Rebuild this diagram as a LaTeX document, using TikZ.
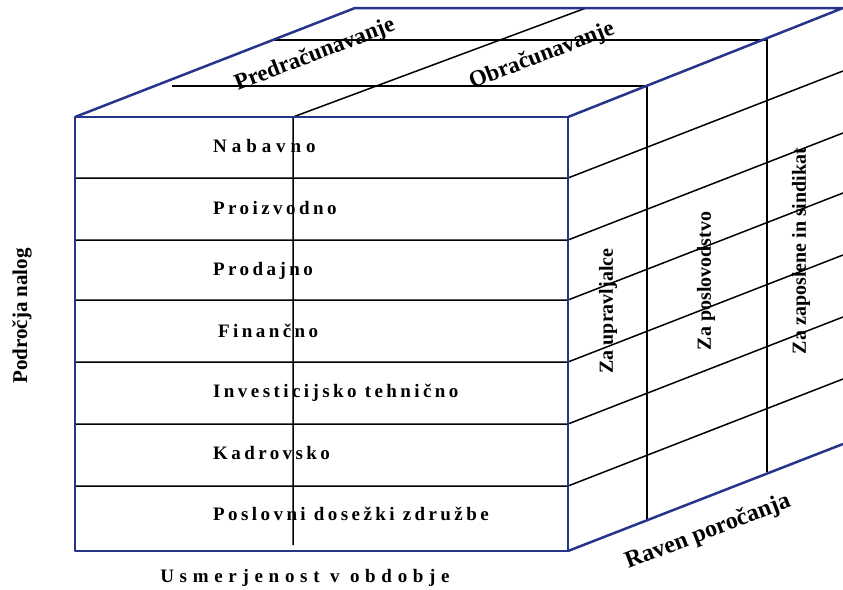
\documentclass[tikz,border=0pt]{standalone}
\usepackage{fontspec}
\setmainfont{Liberation Serif}

\definecolor{rimblue}{RGB}{38,52,138}
\newcommand{\rowfont}{\fontsize{19}{22}\selectfont\bfseries\addfontfeature{LetterSpace=18}}
\newcommand{\sidefont}{\fontsize{20}{24}\selectfont\bfseries}
\newcommand{\slantfont}{\fontsize{23}{26}\selectfont\bfseries}

\begin{document}
\begin{tikzpicture}[
    x=1pt, y=-1pt,
    % Styles for the cube
    edge/.style={line width=1.5pt, draw=black},
    rim/.style={line width=2.5pt, draw=rimblue, line join=round},
    rowlabel/.style={anchor=base west, inner sep=0pt, font=\rowfont},
    sidelabel/.style={rotate=90, inner sep=0pt, font=\sidefont},
    slantlabel/.style={rotate=21, inner sep=0pt, font=\slantfont}
]
    \useasboundingbox (0,0) rectangle (843,589);

    % --- Cube corners ---
    \coordinate (ftl) at (75,117);
    \coordinate (ftr) at (568,117);
    \coordinate (fbl) at (75,551);
    \coordinate (fbr) at (568,551);
    \coordinate (btl) at (355,8);
    \coordinate (btr) at (843,8);
    \coordinate (bbr) at (843,444);

    % --- Row lines (front left, front right, back) ---
    \coordinate (l1) at (75,178);  \coordinate (r1) at (568,178);  \coordinate (b1) at (843,71);
    \coordinate (l2) at (75,240);  \coordinate (r2) at (568,240);  \coordinate (b2) at (843,133);
    \coordinate (l3) at (75,300);  \coordinate (r3) at (568,300);  \coordinate (b3) at (843,193);
    \coordinate (l4) at (75,362);  \coordinate (r4) at (568,362);  \coordinate (b4) at (843,255);
    \coordinate (l5) at (75,424);  \coordinate (r5) at (568,424);  \coordinate (b5) at (843,317);
    \coordinate (l6) at (75,486);  \coordinate (r6) at (568,486);  \coordinate (b6) at (843,379);

    % --- Period divider (front and top) ---
    \coordinate (pf) at (293,117);
    \coordinate (pb) at (293,545);
    \coordinate (pt) at (586,8);

    % --- Reporting levels (top and right) ---
    \coordinate (m1) at (172,86);  \coordinate (n1) at (647,86);  \coordinate (d1) at (647,519);
    \coordinate (m2) at (272,40);  \coordinate (n2) at (767,40);  \coordinate (d2) at (767,472);

    % --- Edges ---
    \draw[edge] (l1) -- (r1) -- (b1);
    \draw[edge] (l2) -- (r2) -- (b2);
    \draw[edge] (l3) -- (r3) -- (b3);
    \draw[edge] (l4) -- (r4) -- (b4);
    \draw[edge] (l5) -- (r5) -- (b5);
    \draw[edge] (l6) -- (r6) -- (b6);
    \draw[edge] (pb) -- (pf) -- (pt);
    \draw[edge] (m1) -- (n1) -- (d1);
    \draw[edge] (m2) -- (n2) -- (d2);

    % Cube outline
    \draw[rim] (ftl) rectangle (fbr);
    \draw[rim] (ftl) -- (btl) -- (btr) -- (ftr);
    \draw[rim] (fbr) -- (bbr);

    % --- Labels: front rows ---
    \node[rowlabel, font=\rowfont\addfontfeature{LetterSpace=26}] (nabavno) at (213,152) {Nabavno};
    \node[rowlabel] (proizvodno) at (213,214) {Proizvodno};
    \node[rowlabel] (prodajno) at (213,275) {Prodajno};
    \node[rowlabel] (financno) at (218,337) {Finančno};
    \node[rowlabel] (investicijsko) at (213,397) {Investicijsko tehnično};
    \node[rowlabel] (kadrovsko) at (213,459) {Kadrovsko};
    \node[rowlabel] (poslovni) at (213,520) {Poslovni dosežki združbe};

    % Labels: top and right faces
    \node[slantlabel] (predracun) at (315,55) {Predračunavanje};
    \node[slantlabel] (obracun) at (542,56) {Obračunavanje};
    \node[sidelabel] (upravljalci) at (608,311) {Za upravljalce};
    \node[sidelabel] (poslovodstvo) at (706,281) {Za poslovodstvo};
    \node[sidelabel] (zaposleni) at (801,251) {Za zaposlene in sindikat};

    % Labels: axes
    \node[rowlabel, anchor=base, font=\rowfont\addfontfeature{LetterSpace=30}] (obdobje) at (305,582) {Usmerjenost v obdobje};
    \node[sidelabel, font=\fontsize{21}{24}\selectfont\bfseries] (podrocja) at (22,316) {Področja nalog};
    \node[slantlabel, font=\fontsize{24}{27}\selectfont\bfseries] (raven) at (708,532) {Raven poročanja};

\end{tikzpicture}
\end{document}
